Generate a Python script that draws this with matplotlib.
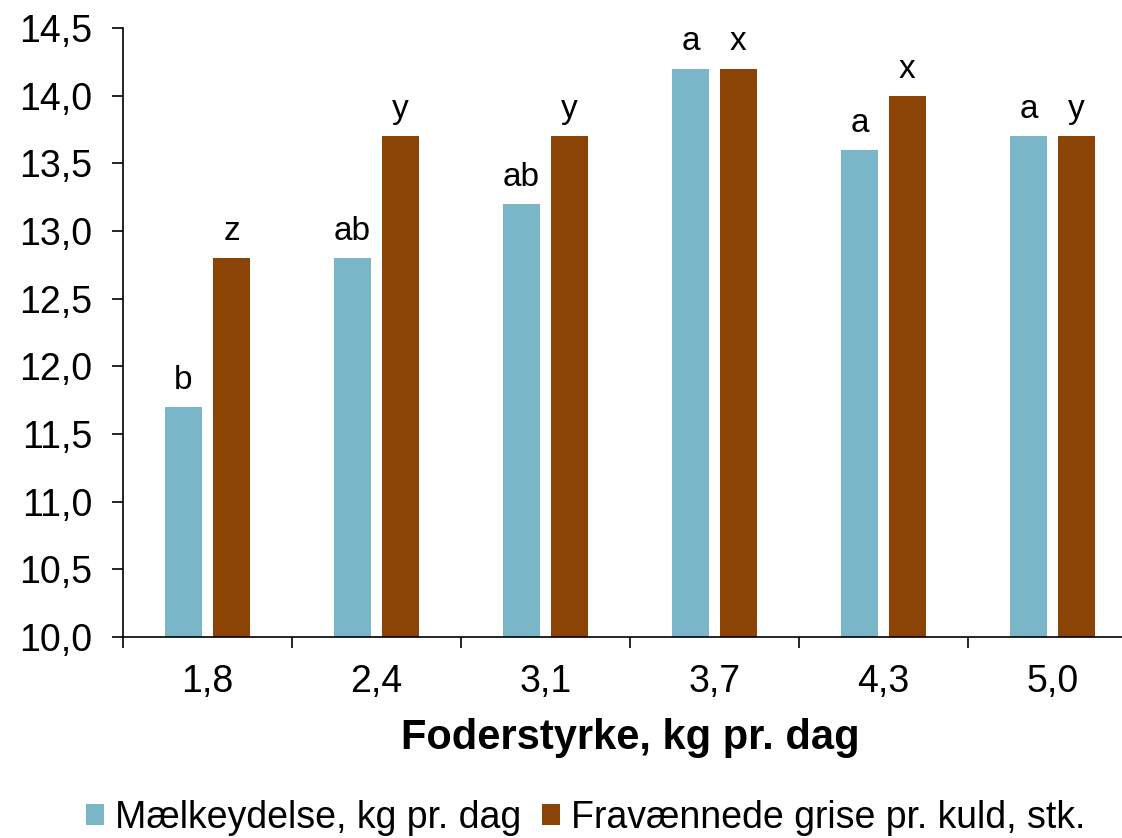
import numpy as np
import matplotlib
matplotlib.use("Agg")
import matplotlib.pyplot as plt

plt.rcParams["font.family"] = ["Liberation Sans", "DejaVu Sans"]

categories = ["1,8", "2,4", "3,1", "3,7", "4,3", "5,0"]
milk = [11.7, 12.8, 13.2, 14.2, 13.6, 13.7]
piglets = [12.8, 13.7, 13.7, 14.2, 14.0, 13.7]
milk_letters = ["b", "ab", "ab", "a", "a", "a"]
piglet_letters = ["z", "y", "y", "x", "x", "y"]
yticks = [10.0, 10.5, 11.0, 11.5, 12.0, 12.5, 13.0, 13.5, 14.0, 14.5]

BLUE = "#7AB6C7"
BROWN = "#8B4306"

fig = plt.figure(figsize=(11.22, 8.38), dpi=100)
ax = fig.add_axes([0.1096, 0.2399, 0.9037, 0.7267])

x = np.arange(len(categories))
w = 0.22
off = 0.142
b1 = ax.bar(x - off, milk, w, color=BLUE, label="Mælkeydelse, kg pr. dag")
b2 = ax.bar(x + off, piglets, w, color=BROWN, label="Fravænnede grise pr. kuld, stk.")

# significance letters above each bar
for rect, txt in zip(list(b1) + list(b2), milk_letters + piglet_letters):
    ax.annotate(txt, (rect.get_x() + rect.get_width() / 2, rect.get_height()),
                xytext=(0, 8), textcoords="offset points",
                ha="center", va="bottom", fontsize=24)

ax.set_ylim(10.0, 14.5)
ax.set_xlim(-0.5, len(categories) - 0.5)
ax.set_yticks(yticks)
ax.set_yticklabels([f"{v:.1f}".replace(".", ",") for v in yticks], fontsize=27)
ax.set_xticks(x)
ax.set_xticklabels(categories, fontsize=27)
ax.set_xticks(np.arange(len(categories) + 1) - 0.5, minor=True)
ax.tick_params(axis="x", which="major", length=0, pad=19.5)
ax.tick_params(axis="x", which="minor", length=8, width=1.2, direction="out")
ax.tick_params(axis="y", length=8, width=1.2, direction="out", pad=14)
for s in ("top", "right"):
    ax.spines[s].set_visible(False)
for s in ("left", "bottom"):
    ax.spines[s].set_linewidth(1.2)

ax.set_xlabel("Foderstyrke, kg pr. dag", fontsize=30, fontweight="bold", labelpad=13)

fig.legend(loc="lower center", bbox_to_anchor=(0.522, -0.038), ncol=2, frameon=False,
           fontsize=27, handlelength=0.48, handleheight=0.48, handletextpad=0.3,
           columnspacing=0.54)

fig.savefig("out.png", dpi=100)
